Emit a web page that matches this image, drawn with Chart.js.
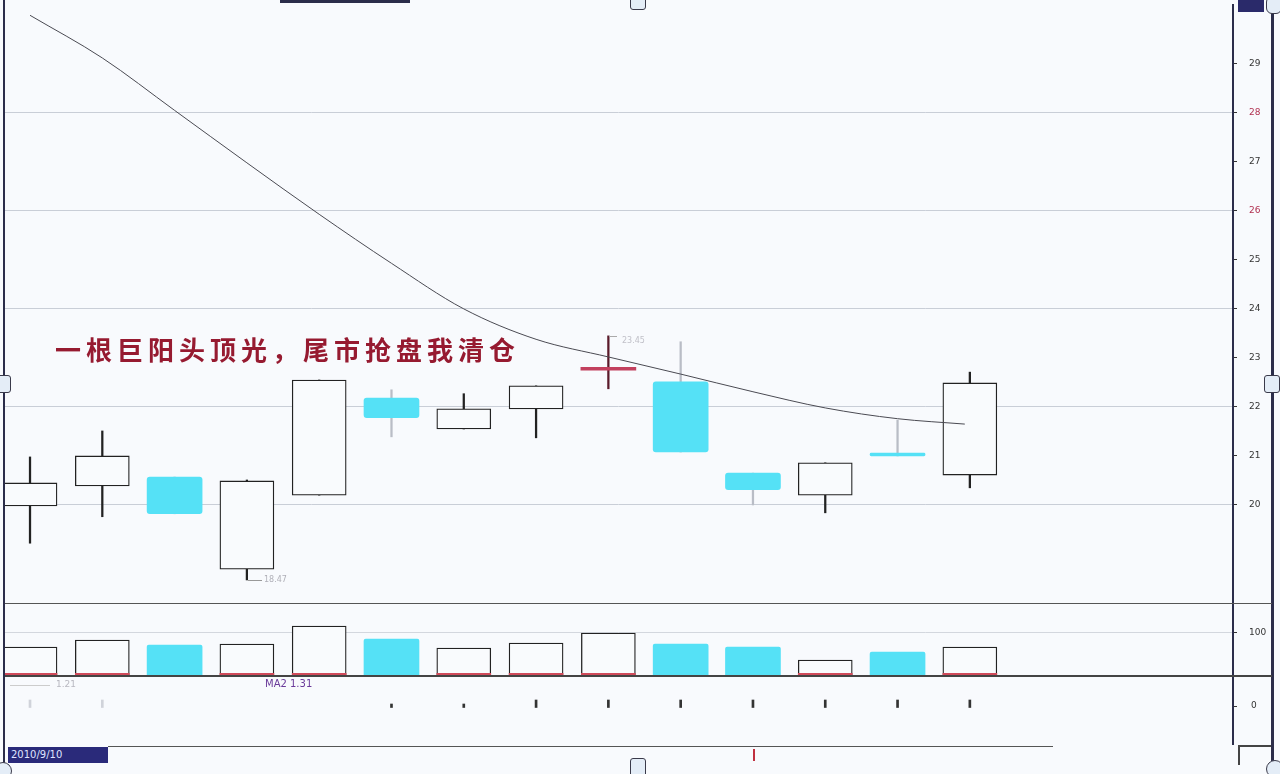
<!DOCTYPE html>
<html>
<head>
<meta charset="utf-8">
<script src="https://cdn.jsdelivr.net/npm/chart.js@4.4.0/dist/chart.umd.min.js"></script>
<style>
  body { margin: 0; background: #f8fafd; }
  #wrap { position: relative; width: 1280px; height: 774px; overflow: hidden; background: #f8fafd; }
  .pane { position: absolute; left: 0; }
  .ln { position: absolute; }
  .txt { position: absolute; white-space: nowrap; font-family: 'DejaVu Sans', sans-serif; }
  .handle { position: absolute; background: #e4edf7; border: 1px solid #3a3a4a; border-radius: 3px; }
</style>
</head>
<body>
<div id="wrap">
  <div class="pane" style="top:0;width:1280px;height:604px"><canvas id="priceChart" width="1280" height="604"></canvas></div>
  <div class="pane" style="top:603px;width:1280px;height:73px"><canvas id="volChart" width="1280" height="73"></canvas></div>
  <div class="pane" style="top:676px;width:1280px;height:69px"><canvas id="indChart" width="1280" height="69"></canvas></div>

  <!-- frame lines -->
  <div class="ln" style="left:3px;top:0;width:2px;height:774px;background:#2b2d4a"></div>
  <div class="ln" style="left:1271px;top:0;width:3px;height:774px;background:#2b2d4a"></div>
  <div class="ln" style="left:5px;top:603px;width:1267px;height:1px;background:#555"></div>
  <div class="ln" style="left:5px;top:675px;width:1267px;height:2px;background:#444"></div>
  <div class="ln" style="left:108px;top:746px;width:945px;height:1px;background:#555"></div>
  <div class="ln" style="left:1238px;top:745px;width:33px;height:2px;background:#444"></div>
  <div class="ln" style="left:1238px;top:745px;width:2px;height:20px;background:#444"></div>
  <div class="ln" style="left:280px;top:0;width:130px;height:3px;background:#2b2d4a"></div>
  <div class="ln" style="left:1238px;top:0;width:26px;height:12px;background:#2a2a6a"></div>

  <!-- annotation -->
  <div class="txt" style="left:55px;top:330px;font-family:'Noto Sans CJK SC';font-weight:700;font-size:26px;letter-spacing:5px;color:#961a30">一根巨阳头顶光，尾市抢盘我清仓</div>

  <!-- price markers -->
  <div class="ln" style="left:248px;top:580px;width:14px;height:1px;background:#999"></div>
  <div class="txt" style="left:264px;top:575px;font-size:8px;color:#b0b0b8">18.47</div>
  <div class="ln" style="left:609px;top:336px;width:8px;height:1px;background:#aaa"></div>
  <div class="txt" style="left:622px;top:336px;font-size:8px;color:#c0c0c8">23.45</div>

  <!-- volume labels -->
  <div class="ln" style="left:10px;top:685px;width:40px;height:1px;background:#ccc"></div>
  <div class="txt" style="left:56px;top:679px;font-size:9px;color:#b8b8c0">1.21</div>
  <div class="txt" style="left:265px;top:678px;font-size:10px;color:#6a3a9a">MA2 1.31</div>

  <!-- date box -->
  <div class="txt" style="left:8px;top:747px;width:100px;height:16px;background:#2a2a7a;color:#dfe4ff;font-size:10px;line-height:16px;padding-left:3px;box-sizing:border-box">2010/9/10</div>
  <div class="ln" style="left:753px;top:749px;width:2px;height:12px;background:#c03040"></div>

  <!-- selection handles -->
  <div class="handle" style="left:630px;top:-4px;width:14px;height:12px"></div>
  <div class="handle" style="left:-3px;top:375px;width:12px;height:16px"></div>
  <div class="handle" style="left:1264px;top:375px;width:14px;height:16px"></div>
  <div class="handle" style="left:630px;top:758px;width:14px;height:18px"></div>
  <div class="handle" style="left:-6px;top:762px;width:16px;height:16px;border-radius:9px"></div>
  <div class="handle" style="left:1266px;top:760px;width:16px;height:16px;border-radius:9px"></div>
  <div class="handle" style="left:1266px;top:-4px;width:14px;height:16px;border-radius:6px"></div>
</div>

<script>
// x position of each candle (trading day index)
const days = [0, 1, 2, 3, 4, 5, 6, 7, 8, 9, 10, 11, 12, 13];
const opens  = [19.98, 20.39, 20.57, 18.69, 20.20, 22.18, 21.55, 21.96, 22.78, 22.51, 20.65, 20.20, 21.06, 20.61];
const closes = [20.45, 21.00, 19.82, 20.49, 22.55, 21.78, 21.96, 22.43, 22.78, 21.08, 20.31, 20.86, 21.00, 22.49];
const highs  = [20.98, 21.51, 20.57, 20.51, 22.55, 22.35, 22.27, 22.43, 23.45, 23.33, 20.65, 20.86, 21.73, 22.71];
const lows   = [19.22, 19.76, 19.82, 18.47, 20.20, 21.39, 21.55, 21.37, 22.37, 21.08, 20.00, 19.84, 21.00, 20.35];
const ma = [29.99, 29.12, 28.05, 26.98, 25.93, 24.93, 24.00, 23.38, 23.02, 22.67, 22.31, 21.98, 21.76, 21.65];
const maDays = [0, 1, 2, 3, 4, 5, 6, 7, 8, 9, 10, 11, 12, 12.93];
const volumes = [66.7, 83.3, 71.4, 73.8, 116.7, 85.7, 64.3, 76.2, 100, 73.8, 66.7, 35.7, 54.8, 66.7];
const indicator = [6, 6, 0, 0, 0, 2, 2, 6, 6, 6, 6, 6, 6, 6];
const priceTicks = [20, 21, 22, 23, 24, 25, 26, 27, 28, 29];
const volTicks = [100];
const indTicks = [0];

const X_MIN = -0.346, X_MAX = 16.64;
const CYAN = '#55e1f6';
const BG = '#f9fbfd';

function kind(i) {
  if (Math.abs(opens[i] - closes[i]) < 0.01) return 'doji';
  return closes[i] > opens[i] ? 'up' : 'down';
}

const upBodies = [], downBodies = [], dojiBodies = [], wicks = [], wickColors = [];
days.forEach((d, i) => {
  const k = kind(i);
  if (k === 'up') upBodies.push({x: d, y: [opens[i], closes[i]]});
  if (k === 'down') downBodies.push({x: d, y: [opens[i], closes[i]]});
  if (k === 'doji') dojiBodies.push({x: d, y: [opens[i] - 0.03, closes[i] + 0.03]});
  wicks.push({x: d, y: [lows[i], highs[i]]});
  wickColors.push(k === 'up' ? '#222' : (k === 'doji' ? '#5a1a2a' : '#b9bdc6'));
});

const xAxis = { type: 'linear', min: X_MIN, max: X_MAX, offset: false, display: false };
// fixed axis width, and no extra label padding so the plot fills the pane
function fixedWidth(scale) {
  scale.width = 47;
  scale.paddingTop = 0;
  scale.paddingBottom = 0;
}
const tickFont = { family: 'DejaVu Sans', size: 9 };

new Chart(document.getElementById('priceChart'), {
  type: 'bar',
  data: {
    datasets: [
      { type: 'line', data: ma.map((v, i) => ({x: maDays[i], y: v})), borderColor: '#4a4a52', borderWidth: 1,
        pointRadius: 0, cubicInterpolationMode: 'monotone', order: -1 },
      { data: upBodies, backgroundColor: BG, borderColor: '#222', borderWidth: 1.3, borderSkipped: false,
        barThickness: 54, order: 0 },
      { data: downBodies, backgroundColor: CYAN, borderWidth: 0, borderRadius: 3, borderSkipped: false,
        barThickness: 55, order: 0 },
      { data: dojiBodies, backgroundColor: '#c2405e', borderWidth: 0, borderSkipped: false,
        barThickness: 55, order: 0 },
      { data: wicks, backgroundColor: wickColors, borderWidth: 0, barThickness: 1.6, order: 1 }
    ]
  },
  options: {
    responsive: false,
    animation: false,
    layout: { padding: { left: 5, top: 5, right: 0, bottom: 1 } },
    datasets: { bar: { grouped: false } },
    plugins: { legend: { display: false }, tooltip: { enabled: false } },
    scales: {
      x: xAxis,
      y: {
        position: 'right', min: 18, max: 30.2,
        afterFit: fixedWidth,
        afterBuildTicks: s => { s.ticks = priceTicks.map(v => ({value: v})); },
        border: { display: true, color: '#2b2d4a', width: 2 },
        grid: {
          color: c => (c.tick && c.tick.value % 2 === 0) ? '#c9ced7' : 'rgba(0,0,0,0)',
          tickColor: '#333', tickLength: 4, lineWidth: 1
        },
        ticks: {
          padding: 12, font: tickFont,
          color: c => (c.tick.value === 28 || c.tick.value === 26) ? '#b03050' : '#333'
        }
      }
    }
  }
});

const volUp = [], volDown = [], volBase = [];
days.forEach((d, i) => {
  const k = kind(i);
  if (k === 'down') volDown.push({x: d, y: volumes[i]});
  else { volUp.push({x: d, y: volumes[i]}); volBase.push({x: d, y: [0, 4]}); }
});

new Chart(document.getElementById('volChart'), {
  type: 'bar',
  data: {
    datasets: [
      { data: volBase, backgroundColor: '#d04a5a', borderWidth: 0, barThickness: 54, order: 0 },
      { data: volUp, backgroundColor: BG, borderColor: '#222', borderWidth: 1.3, borderSkipped: 'bottom',
        barThickness: 54, order: 1 },
      { data: volDown, backgroundColor: CYAN, borderWidth: 0, borderRadius: 2, borderSkipped: 'bottom',
        barThickness: 55, order: 1 }
    ]
  },
  options: {
    responsive: false,
    animation: false,
    layout: { padding: { left: 5, top: 1, right: 0, bottom: 1 } },
    datasets: { bar: { grouped: false } },
    plugins: { legend: { display: false }, tooltip: { enabled: false } },
    scales: {
      x: xAxis,
      y: {
        position: 'right', min: 0, max: 169,
        afterFit: fixedWidth,
        afterBuildTicks: s => { s.ticks = volTicks.map(v => ({value: v})); },
        border: { display: true, color: '#2b2d4a', width: 2 },
        grid: { color: '#d3d7de', tickColor: '#333', tickLength: 4 },
        ticks: { padding: 12, font: tickFont, color: '#333' }
      }
    }
  }
});

new Chart(document.getElementById('indChart'), {
  type: 'bar',
  data: {
    datasets: [
      { data: indicator.map((v, i) => ({x: days[i], y: [-1.5, v]})).filter(p => p.y[1] > 0),
        backgroundColor: indicator.map((v, i) => i < 2 ? '#d0d3da' : '#333').filter((c, i) => indicator[i] > 0),
        borderWidth: 0, barThickness: 2 }
    ]
  },
  options: {
    responsive: false,
    animation: false,
    layout: { padding: { left: 5, top: 0, right: 0, bottom: 0 } },
    datasets: { bar: { grouped: false } },
    plugins: { legend: { display: false }, tooltip: { enabled: false } },
    scales: {
      x: xAxis,
      y: {
        position: 'right', min: -39, max: 30,
        afterFit: fixedWidth,
        afterBuildTicks: s => { s.ticks = indTicks.map(v => ({value: v})); },
        border: { display: true, color: '#2b2d4a', width: 2 },
        grid: { color: 'rgba(0,0,0,0)', tickColor: '#333', tickLength: 4 },
        ticks: { padding: 14, font: tickFont, color: '#333' }
      }
    }
  }
});
</script>
</body>
</html>
